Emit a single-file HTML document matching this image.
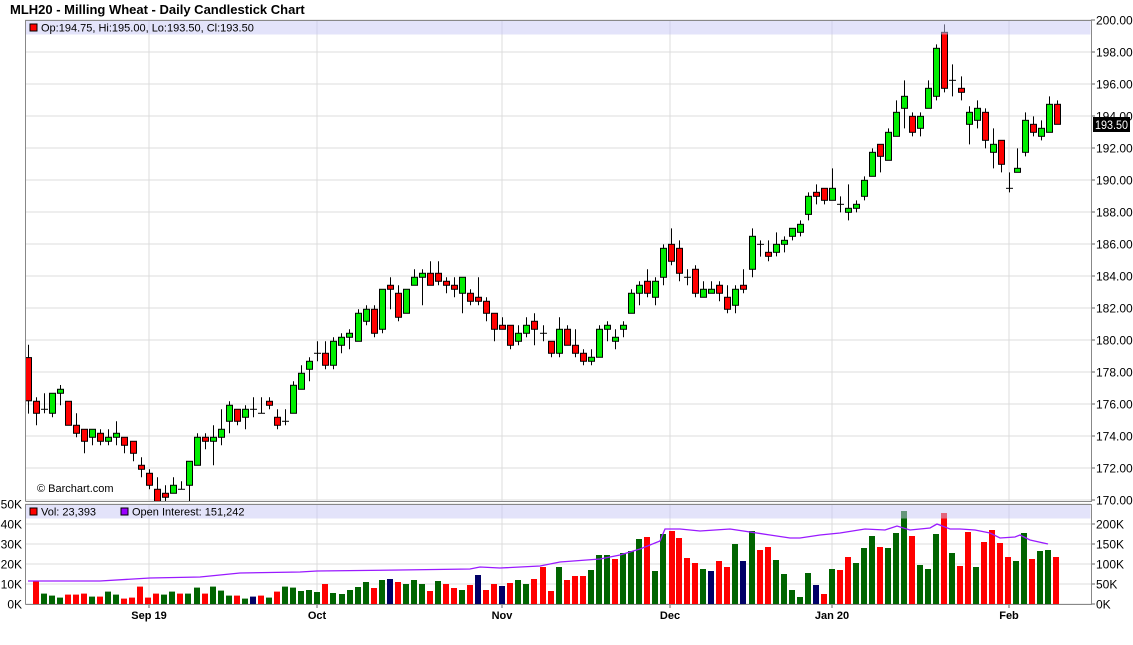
<!DOCTYPE html>
<html><head><meta charset="utf-8"><style>
html,body{margin:0;padding:0;background:#fff;width:1133px;height:645px;overflow:hidden}
svg{display:block;font-family:"Liberation Sans",sans-serif}
</style></head><body>
<svg id="s" width="1133" height="645" xmlns="http://www.w3.org/2000/svg"></svg>
<script>
var C=[[28,178.9,179.7,175.4,176.2],[36,176.17,176.42,174.67,175.42],[44,175.67,176.67,175.42,175.67],[52,175.42,176.67,175.17,176.67],[60,176.67,177.19,175.92,176.92],[68,176.17,176.17,174.67,174.67],[76,174.67,175.42,173.92,174.17],[84,174.42,174.42,172.92,173.67],[92,173.92,174.42,173.42,174.42],[100,174.17,174.42,173.42,173.67],[108,173.67,174.42,173.42,173.92],[116,173.92,174.92,173.42,174.17],[124,173.92,173.92,172.92,173.42],[133,173.67,173.67,172.42,172.92],[141,172.17,172.67,171.42,171.92],[149,171.67,171.92,170.67,170.92],[157,170.67,171.42,169.92,169.92],[165,170.42,170.92,169.92,170.17],[173,170.42,171.42,170.42,170.92],[181,170.67,171.17,170.67,170.67],[189,170.92,172.42,169.92,172.42],[197,172.17,174.17,172.17,173.92],[205,173.92,174.17,173.17,173.67],[213,173.67,174.67,172.17,173.92],[221,173.92,175.67,173.42,174.42],[229,174.92,176.17,174.17,175.92],[237,175.67,175.67,174.67,174.92],[245,175.17,175.92,174.42,175.67],[253,175.67,176.42,175.17,175.67],[261,175.42,176.42,175.42,175.42],[269,176.17,176.42,175.67,175.92],[277,175.17,175.67,174.42,174.67],[285,174.92,175.67,174.67,174.92],[293,175.42,177.42,175.42,177.17],[301,176.92,178.42,176.92,177.92],[309,178.17,178.92,177.42,178.67],
[317,179.17,179.92,178.67,179.17],[325,179.17,179.92,178.17,178.42],[333,178.42,180.17,178.17,179.92],[341,179.67,180.42,179.17,180.17],[349,180.17,180.67,179.42,180.42],[358,179.92,181.92,179.92,181.67],[366,181.17,182.17,180.92,181.92],[374,181.92,182.17,180.17,180.42],[382,180.67,183.17,180.42,183.17],[390,183.42,183.92,181.92,183.17],[398,182.92,183.42,181.17,181.42],[406,181.67,183.17,181.67,183.17],[414,183.42,184.42,183.42,183.92],[422,183.92,184.42,182.17,184.17],[430,184.17,184.92,183.42,183.42],[438,184.17,184.92,183.42,183.67],[446,183.67,183.92,182.92,183.42],[454,183.42,183.92,182.67,183.17],[462,182.92,183.92,181.67,183.92],[470,182.92,183.17,182.17,182.42],[478,182.67,183.92,182.17,182.42],[486,182.42,182.67,181.17,181.67],[494,181.67,181.67,179.92,180.67],[502,180.92,181.42,180.67,180.67],[510,180.92,180.92,179.42,179.67],[518,179.92,180.92,179.67,180.42],[526,180.42,181.42,180.17,180.92],[534,181.17,181.67,179.67,180.67],
[543,180.42,180.92,179.92,180.42],[551,179.92,179.92,178.92,179.17],[559,179.17,181.42,178.92,180.67],[567,180.67,180.92,179.67,179.67],[575,179.67,180.67,178.92,179.17],[583,179.17,179.42,178.42,178.67],[591,178.67,179.42,178.42,178.92],[599,178.92,180.92,178.92,180.67],[607,180.67,181.17,179.92,180.92],[615,179.92,180.67,179.42,180.17],[623,180.67,181.17,180.17,180.92],[631,181.67,183.17,181.67,182.92],[639,182.92,183.67,182.17,183.42],[647,183.67,184.42,182.67,182.92],[655,182.67,183.92,182.17,183.67],[663,183.92,185.98,183.42,185.73],[671,185.98,186.98,184.67,184.92],[679,185.73,186.23,183.67,184.17],[687,183.92,184.42,183.42,183.92],[695,184.42,184.67,182.67,182.92],[703,182.67,183.67,182.67,183.17],[711,182.92,183.67,182.92,183.17],[719,183.42,183.67,182.42,182.92],[727,182.67,183.42,181.67,181.92],[735,182.17,183.42,181.67,183.17],[743,183.42,184.42,182.92,183.17],[752,184.42,186.98,183.92,186.48],[760,185.98,186.23,185.21,185.98],[768,185.48,186.23,184.92,185.23],[776,185.48,186.73,185.23,185.98],[784,185.98,186.48,185.48,186.23],[792,186.48,186.98,186.23,186.98],[800,186.73,187.48,186.48,187.23],
[808,187.85,189.23,187.48,188.98],[816,189.23,189.73,188.48,188.98],[824,189.48,189.48,188.48,188.73],[832,188.73,190.73,188.73,189.48],[840,188.48,188.98,187.98,188.48],[848,187.98,189.73,187.48,188.23],[856,188.23,188.73,187.98,188.48],[864,188.98,190.23,188.73,189.98],[872,190.23,191.98,190.23,191.73],[880,192.23,192.23,190.48,191.48],[888,191.23,193.23,191.23,192.98],[896,192.73,194.98,192.73,194.23],[904,194.48,196.23,193.23,195.23],[912,193.98,194.23,192.73,192.98],[920,193.23,194.23,192.73,193.98],[928,194.48,196.23,194.48,195.73],[936,195.23,198.48,194.98,198.23],[944,199.23,199.73,195.48,195.73],[952,196.23,197.23,195.23,196.23],[961,195.73,196.48,194.98,195.48],[969,193.48,194.61,192.23,194.23],[977,193.73,194.98,193.23,194.48],[985,194.23,194.48,191.98,192.48],[993,191.73,193.23,190.73,192.23],[1001,192.48,192.48,190.48,190.98],[1009,189.48,190.48,189.23,189.48],[1017,190.48,191.98,190.48,190.73],[1025,191.73,194.23,191.48,193.73],[1033,193.48,193.98,192.73,192.98],[1041,192.73,193.73,192.48,193.23],[1049,192.98,195.23,192.98,194.73],[1057,194.73,194.98,193.48,193.48]];
var V=[[36,11.7,'r'],[44,5.2,'g'],[52,4.2,'g'],[60,3.2,'g'],[68,4.7,'r'],[76,4.7,'r'],[84,5.2,'r'],[92,3.7,'g'],[100,3.7,'r'],[108,6.2,'g'],[116,4.7,'g'],[124,2.7,'r'],[132,3.2,'r'],[140,8.7,'r'],[148,3.2,'r'],[156,5.2,'r'],[164,4.7,'g'],[172,6.2,'g'],[180,5.2,'r'],[188,5.2,'g'],[197,8.2,'g'],[205,5.2,'r'],[213,8.7,'g'],[221,6.7,'g'],[229,4.2,'g'],[237,4.2,'r'],[245,2.7,'g'],[253,3.7,'b'],[261,4.2,'r'],[269,3.2,'g'],[277,6.2,'r'],[285,8.7,'g'],[293,8.2,'g'],
[301,6.5,'g'],[309,7,'g'],[317,6,'g'],[325,10,'r'],[333,5.5,'g'],[342,5,'g'],[350,7,'g'],[358,8.5,'g'],[366,11,'g'],[374,8,'r'],[382,12,'g'],[390,12.5,'b'],[398,11,'r'],[406,10,'g'],[414,12,'g'],[422,10,'g'],[430,6.5,'r'],[438,11.5,'g'],[446,10,'r'],[454,8,'r'],[462,7,'g'],[470,9.5,'r'],[478,14.5,'b'],[486,7,'r'],[494,10,'r'],[502,9,'b'],[510,10.5,'r'],[518,12,'g'],[526,10,'g'],[534,12.5,'r'],[543,18.5,'r'],[551,6.5,'r'],[559,18.5,'g'],[567,12,'r'],[575,14,'r'],[583,14,'r'],[591,17,'g'],[599,24.5,'g'],[607,24.5,'g'],[615,22.5,'r'],[623,25.5,'g'],[631,26.5,'g'],[639,32.5,'g'],[647,33.5,'r'],[655,16.5,'g'],[663,35,'g'],
[672,36.5,'r'],[679,33,'r'],[687,23,'r'],[695,20.5,'r'],[703,17.5,'g'],[711,16.5,'b'],[719,21.5,'r'],[727,18.5,'r'],[735,30,'g'],[743,21.5,'b'],[752,36.5,'g'],[760,27,'r'],[768,28.5,'r'],[776,22,'g'],[784,15,'g'],[792,7,'g'],[800,3.5,'g'],[808,15.5,'g'],[816,9.5,'b'],[824,5,'r'],[832,17.5,'g'],[840,17,'r'],[848,23.5,'r'],[856,20.5,'g'],[864,28,'g'],[872,34,'g'],[880,28.5,'r'],[888,28,'g'],[896,35.5,'g'],[904,46.5,'g'],[912,34,'r'],[920,19.5,'g'],[928,17.5,'g'],[936,35,'g'],[944,45.5,'r'],[952,25.5,'g'],[960,19,'r'],[968,36,'r'],[976,18.5,'g'],[984,31,'r'],[992,37,'r'],[1000,30.5,'r'],[1008,23.5,'r'],[1016,21.5,'g'],[1024,35.5,'g'],[1032,22.5,'r'],[1040,26.5,'g'],[1048,27,'g'],[1056,23.5,'r']];
var OI=[[28,581],[100,581],[150,578],[200,577],[240,573],[300,572],[317,571],[400,570],[470,569],[480,567],[500,568],[540,566],[560,562],[600,559],[620,555],[640,549],[660,541],[665,529],[680,529],[700,531],[730,529],[770,535],[790,538],[800,538],[820,535],[840,533],[865,529],[885,530],[897,526],[910,530],[930,528],[937,524],[950,529],[960,529],[975,530],[990,533],[1000,538],[1015,537],[1020,535],[1030,540],[1048,544]];
function Y(p){return 20+(200-p)*16}
var h='';
h+='<text x="10" y="14" font-size="13" font-weight="bold" fill="#000">MLH20 - Milling Wheat - Daily Candlestick Chart</text>';
for(var p=170;p<=200;p+=2){var y=Y(p);h+='<line x1="25" x2="1091" y1="'+y+'" y2="'+y+'" stroke="#dcdcdc"/>';h+='<line x1="1091" x2="1095" y1="'+y+'" y2="'+y+'" stroke="#666"/>';h+='<text x="1096" y="'+(y+4.5)+'" font-size="12" fill="#000">'+p.toFixed(2)+'</text>';}
var vx=[149,317,502,670,832,1009];
vx.forEach(function(x){h+='<line x1="'+x+'" x2="'+x+'" y1="20" y2="501" stroke="#dcdcdc"/><line x1="'+x+'" x2="'+x+'" y1="504" y2="604" stroke="#dcdcdc"/><line x1="'+x+'" x2="'+x+'" y1="604" y2="608" stroke="#666"/>';});
var vl=['0K','10K','20K','30K','40K','50K'],ol=['0K','50K','100K','150K','200K'];
for(var i=0;i<=5;i++){var y=604-i*20;h+='<line x1="25" x2="1091" y1="'+y+'" y2="'+y+'" stroke="#dcdcdc"/>';h+='<text x="22" y="'+(y+4.5)+'" font-size="12" text-anchor="end" fill="#000">'+vl[i]+'</text>';}
for(var i=0;i<=4;i++){var y=604-i*20;h+='<line x1="1091" x2="1095" y1="'+y+'" y2="'+y+'" stroke="#666"/><text x="1096" y="'+(y+4.5)+'" font-size="12" fill="#000">'+ol[i]+'</text>';}
C.forEach(function(c){var x=c[0],o=c[1],hi=c[2],lo=c[3],cl=c[4];
h+='<line x1="'+(x+0.5)+'" x2="'+(x+0.5)+'" y1="'+Y(hi)+'" y2="'+Y(lo)+'" stroke="#000" stroke-width="1"/>';
if(Math.abs(o-cl)<0.05){h+='<line x1="'+(x-3)+'" x2="'+(x+4)+'" y1="'+Y(o)+'" y2="'+Y(o)+'" stroke="#000"/>';}
else{var t=Y(Math.max(o,cl)),b=Y(Math.min(o,cl));h+='<rect x="'+(x-2.5)+'" y="'+t+'" width="6" height="'+(b-t)+'" fill="'+(cl>o?'#00ee00':'#ff0000')+'" stroke="#000" stroke-width="1"/>';}});
var col={r:'#ff0000',g:'#006400',b:'#000066'};
V.forEach(function(v){var t=604-v[1]*2;h+='<rect x="'+(v[0]-3)+'" y="'+t+'" width="6" height="'+(604-t)+'" fill="'+col[v[2]]+'"/>';});
h+='<polyline fill="none" stroke="#9a1aff" stroke-width="1.3" points="'+OI.map(function(p){return p.join(',')}).join(' ')+'"/>';
h+='<rect x="25.5" y="20.5" width="1065" height="14" fill="rgb(200,200,245)" opacity="0.5"/>';
h+='<rect x="25.5" y="504.5" width="1065" height="14" fill="rgb(200,200,245)" opacity="0.5"/>';
h+='<rect x="30" y="24" width="7" height="7" fill="#f00" stroke="#000"/><text x="41" y="31.5" font-size="11" fill="#000">Op:194.75, Hi:195.00, Lo:193.50, Cl:193.50</text>';
h+='<rect x="30" y="508" width="7" height="7" fill="#f00" stroke="#000"/><text x="41" y="515.5" font-size="11" fill="#000">Vol: 23,393</text>';
h+='<rect x="121" y="508" width="7" height="7" fill="#9a00ff" stroke="#000"/><text x="132" y="515.5" font-size="11" fill="#000">Open Interest: 151,242</text>';
h+='<text x="37" y="492" font-size="11" fill="#000">© Barchart.com</text>';
h+='<path d="M25.5 501.5 V20.5 H1091.5 V501.5 H25.5" fill="none" stroke="#888"/>';
h+='<path d="M25.5 604.5 V504.5 H1091.5 V604.5 H25.5" fill="none" stroke="#888"/>';
h+='<rect x="1093" y="117" width="37" height="15" fill="#000"/><text x="1095" y="129" font-size="12" textLength="33" lengthAdjust="spacingAndGlyphs" fill="#fff">193.50</text>';
var xl=[[149,'Sep 19'],[317,'Oct'],[502,'Nov'],[670,'Dec'],[832,'Jan 20'],[1009,'Feb']];
xl.forEach(function(a){h+='<text x="'+a[0]+'" y="619" font-size="11" font-weight="bold" text-anchor="middle" fill="#000">'+a[1]+'</text>';});
document.getElementById('s').innerHTML=h;
</script>
</body></html>
